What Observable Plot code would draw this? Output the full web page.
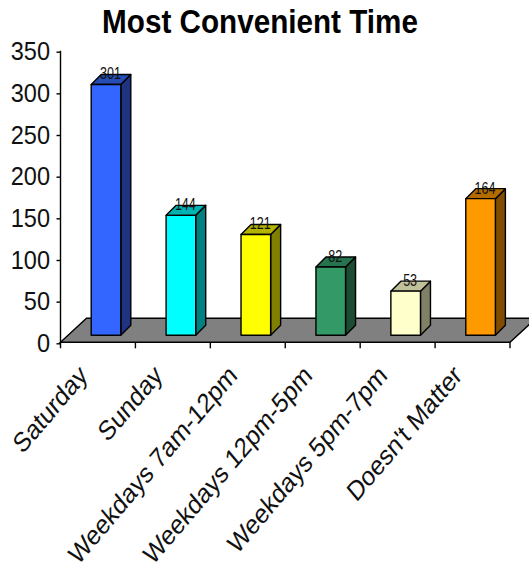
<!DOCTYPE html>
<html><head><meta charset="utf-8">
<script src="https://cdn.jsdelivr.net/npm/d3@7"></script>
<script src="https://cdn.jsdelivr.net/npm/@observablehq/plot@0.6"></script>
<style>
html,body{margin:0;padding:0;background:#fff;overflow:hidden}
svg{display:block}
</style></head><body><div id="chart"></div>
<script>
const categories = ["Saturday","Sunday","Weekdays 7am-12pm","Weekdays 12pm-5pm","Weekdays 5pm-7pm","Doesn't Matter"];
const counts = [301,144,121,82,53,164];
const frontColors = ["#3366ff","#00ffff","#ffff00","#339966","#ffffcc","#ff9900"];
const sideColors = ["#1f3380","#008080","#808000","#1c4d33","#808066","#804d00"];
const topColors = ["#264db3","#00b3b3","#b3b300","#267350","#c0c09a","#b36b00"];
const tickValues = [0,50,100,150,200,250,300,350];
const table = categories.map((c,i)=>({c,v:counts[i],front:frontColors[i],side:sideColors[i],top:topColors[i]}));
const BAR_DX=8, BAR_DY=-7, DEPTH_X=10, DEPTH_Y=-10, FLOOR_X=26, FLOOR_Y=-24;
const FONT='"Liberation Sans",Arial,sans-serif';
const SW=1.4;

function solid(index, scales, values, dims){
  const g=d3.create("svg:g");
  for(const i of index){
    const x0=values.x[i]+22.7+BAR_DX, x1=x0+29.6, yT=values.y2[i]+BAR_DY, yB=values.y1[i]+BAR_DY;
    const poly=(pts,fill)=>g.append("polygon").attr("points",pts.map(p=>p.join(",")).join(" ")).attr("fill",fill).attr("stroke","#000").attr("stroke-width",SW).attr("stroke-linejoin","round");
    poly([[x1,yT],[x1+DEPTH_X,yT+DEPTH_Y],[x1+DEPTH_X,yB+DEPTH_Y],[x1,yB]],table[i].side);
    poly([[x0,yT],[x0+DEPTH_X,yT+DEPTH_Y],[x1+DEPTH_X,yT+DEPTH_Y],[x1,yT]],table[i].top);
    poly([[x0,yT],[x1,yT],[x1,yB],[x0,yB]],table[i].front);
  }
  return g.node();
}
function frame(index, scales, values, dims){
  const y0=scales.y(0), yTop=scales.y(350);
  const xl=dims.marginLeft, xr=dims.width-dims.marginRight;
  const step=(xr-xl)/categories.length;
  const g=d3.create("svg:g");
  g.append("polygon").attr("points",[[xl,y0],[xl+FLOOR_X,y0+FLOOR_Y],[xr+FLOOR_X,y0+FLOOR_Y],[xr,y0]].map(p=>p.join(",")).join(" "))
   .attr("fill","#808080").attr("stroke","#000").attr("stroke-width",SW);
  g.append("line").attr("x1",xl).attr("x2",xl).attr("y1",yTop).attr("y2",y0+6).attr("stroke","#000").attr("stroke-width",SW);
  d3.range(1,categories.length+1).forEach(k=>{
    g.append("line").attr("x1",xl+k*step).attr("x2",xl+k*step).attr("y1",y0).attr("y2",y0+6).attr("stroke","#000").attr("stroke-width",SW);
  });
  return g.node();
}

const plot = Plot.plot({
  width:529, height:573,
  marginLeft:60.5, marginRight:19, marginTop:50.7, marginBottom:230.7,
  style:{fontFamily:FONT,background:"#fff",overflow:"hidden"},
  x:{domain:categories,padding:0,align:0,round:false,axis:null},
  y:{domain:[0,350],axis:null},
  marks:[
    Plot.barY(table,{x:"c",y:"v",render:frame}),
    Plot.axisY({ticks:tickValues,tickSize:4,label:null,fontSize:25.6,tickPadding:7,stroke:"#000",fill:"#111",strokeWidth:SW,dy:1}),
    Plot.axisX({tickSize:0,label:null,tickRotate:-45,fontSize:27.5,textAnchor:"end",fill:"#111",tickPadding:0,dx:-15,dy:28}),
    Plot.barY(table,{x:"c",y:"v",render:solid}),
    Plot.text(table,{x:"c",y:"v",text:d=>String(d.v),dx:12,dy:-18,fontSize:17,fontFamily:FONT,fill:"#111"})
  ]
});
const svg=d3.select(plot);
const squeeze=(sel,s)=>sel.each(function(){
  const t=this.getAttribute("transform")||"";
  const m=t.match(/^translate\([^)]*\)/);
  const head=m?m[0]:"";
  const rest=t.slice(head.length);
  this.setAttribute("transform",head+` scale(${s},1)`+rest);
});
squeeze(svg.selectAll('g[aria-label="y-axis tick label"] text'),0.92);
squeeze(svg.selectAll('g[aria-label="x-axis tick label"] text'),0.85);
squeeze(svg.selectAll('g[aria-label="text"] text'),0.74);
svg.append("text").attr("text-anchor","middle").attr("transform","translate(260,33) scale(.91,1)").attr("font-family",FONT).attr("font-weight","bold").attr("font-size",32.6).attr("fill","#000").text("Most Convenient Time");
document.getElementById("chart").append(plot);
</script></body></html>
